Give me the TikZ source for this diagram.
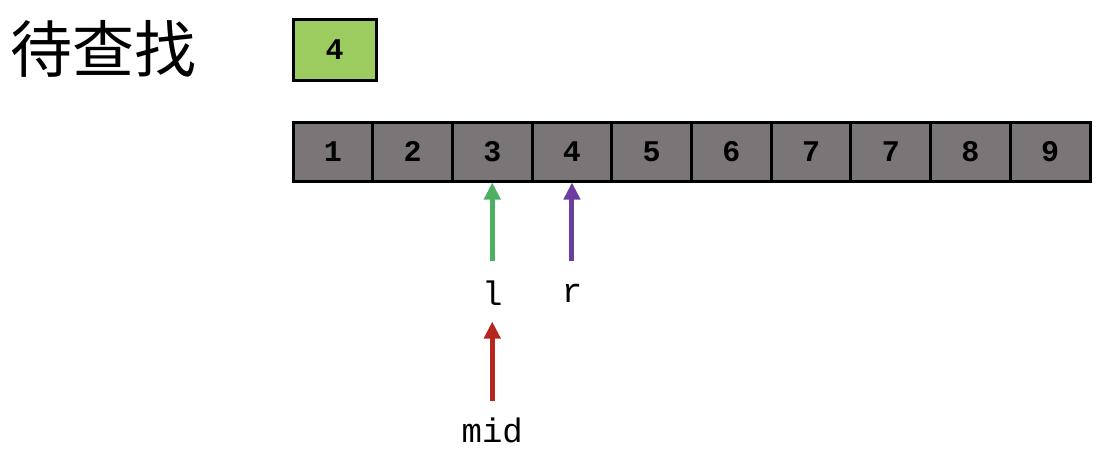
\documentclass[tikz,border=0pt]{standalone}
\usepackage{fontspec}
\setmonofont{Liberation Mono}
\newfontfamily\cjk{Noto Sans CJK SC}
\usetikzlibrary{arrows.meta}
\definecolor{cellgray}{HTML}{7A7677}
\definecolor{keygreen}{HTML}{9CCC5F}
\definecolor{argreen}{HTML}{4DAF62}
\definecolor{arpurple}{HTML}{6C3E9F}
\definecolor{arred}{HTML}{B5261E}
\tikzset{
  x=1pt,y=-1pt,
  cell/.style={draw=black,line width=3pt,fill=cellgray,minimum width=79.7pt,minimum height=59pt,inner sep=0pt,font=\ttfamily\bfseries\fontsize{30}{30}\selectfont,anchor=center},
  keycell/.style={cell,fill=keygreen,minimum width=83pt,minimum height=61pt},
  ptr/.style={line width=5pt,-{Triangle[length=17pt,width=16pt]}},
  lbl/.style={font=\ttfamily\fontsize{34}{34}\selectfont,inner sep=0pt}
}
\begin{document}
\begin{tikzpicture}
\useasboundingbox (0,0) rectangle (1101,451);
\node[font=\cjk\fontsize{62}{62}\selectfont,anchor=west,inner sep=0pt] (title) at (10,49) {待查找};
\node[keycell] (key) at (334.5,49.5) {4};
\foreach \v [count=\i] in {1,2,3,4,5,6,7,7,8,9}{
  \node[cell] (c\i) at ({293+79.7*(\i-0.5)},151.5) {\v};
}
\path (c3.south) ++(0,78) coordinate (lt);
\path (c4.south) ++(0,78) coordinate (rt);
\node[lbl] (l) at ([yshift=-33pt]lt) {l};
\node[lbl] (r) at ([yshift=-33pt]rt) {r};
\path (lt) ++(0,61) coordinate (mh);
\path (lt) ++(0,140) coordinate (mt);
\node[lbl] (mid) at ([yshift=-30pt]mt) {mid};
\draw[ptr,argreen] (lt) -- (c3.south);
\draw[ptr,arpurple] (rt) -- (c4.south);
\draw[ptr,arred] (mt) -- (mh);
\end{tikzpicture}
\end{document}
